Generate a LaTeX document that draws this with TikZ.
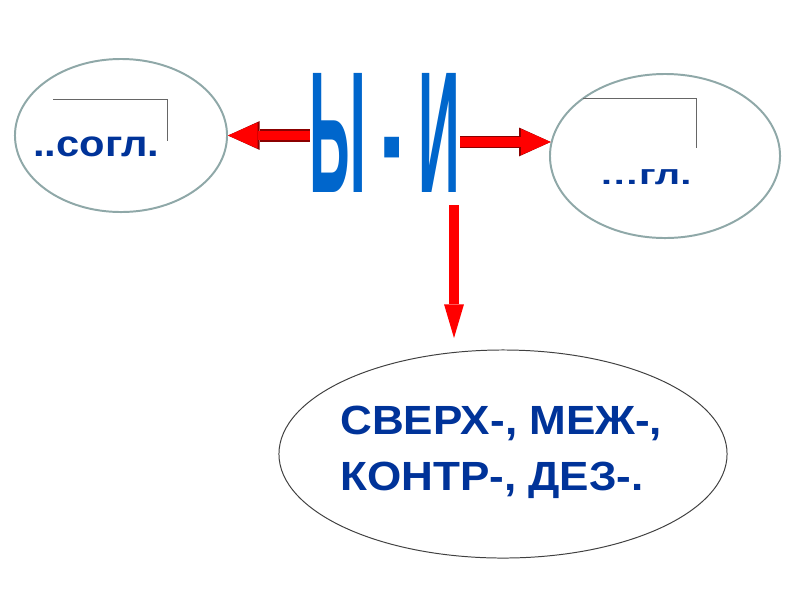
\documentclass[tikz,border=0pt]{standalone}
\usepackage{fontspec}
\setmainfont{Liberation Sans}
\usetikzlibrary{shapes.geometric,arrows.meta,calc}
\definecolor{bukva}{HTML}{0066CC}
\definecolor{textblue}{HTML}{003399}
\definecolor{arrred}{HTML}{FF0000}
\definecolor{arredge}{HTML}{8B0000}
\definecolor{ovalgray}{HTML}{8FA8A8}
\tikzset{
  oval/.style={ellipse, draw=ovalgray, line width=1.4pt, inner sep=0pt},
  bigoval/.style={ellipse, draw=black!75, line width=0.7pt, inner sep=0pt},
  label/.style={text=textblue, inner sep=0pt, font=\bfseries},
  sidearrow/.style={draw=arrred, line width=7.1pt, -{Triangle[length=21pt,width=18.5pt,line width=0pt]},
    preaction={draw=arredge, line width=8.6pt, -{Triangle[length=22.5pt,width=20.5pt,line width=0pt]}}},
  downarrow/.style={draw=arrred, line width=7.1pt, -{Triangle[length=24pt,width=14.2pt,line width=0pt]}},
  ending/.style={draw=black!60, line width=0.7pt},
}

\begin{document}
\begin{tikzpicture}[x=0.025cm, y=-0.025cm]
  \useasboundingbox (0,0) rectangle (800,600);
  % ovals
  \node[oval, minimum width=5.3cm, minimum height=3.825cm] (left) at (121,135.5) {};
  \node[oval, minimum width=5.75cm, minimum height=4.1cm] (right) at (665,156) {};
  \node[bigoval, minimum width=11.2cm, minimum height=5.2cm] (bottom) at (503,454) {};
  % title letters
  \node[inner sep=0pt, text=bukva] (title) at (385,132.5) {\resizebox{3.75cm}{2.975cm}{\bfseries Ы - И}};
  % labels
  \node[label, anchor=base west] (sogl) at (33,156) {\fontsize{26}{30}\selectfont\scalebox{1.14}[1]{..согл.}};
  \node[label, anchor=base west] (gl) at (599,184) {\fontsize{20}{24}\selectfont\scalebox{1.42}[1]{\dots гл.}};
  \node[label, align=left, anchor=west, font=\bfseries\fontsize{29}{40}\selectfont] (pref) at (340,452)
    {\scalebox{1.08}[1]{СВЕРХ-, МЕЖ-,}\\ \scalebox{1.08}[1]{КОНТР-, ДЕЗ-.}};
  % ending marks
  \draw[ending] (53,99) -- (167,99) -- (167,141);
  \draw[ending] (583,98) -- (696,98) -- (696,148);
  % arrows
  \coordinate (dtip) at (454,338);
  \draw[sidearrow] (title.west |- left.east) -- (left.east);
  \draw[sidearrow] (title.east |- right.173) -- (right.173);
  \draw[downarrow] ($(title.south -| dtip)+(0,13)$) -- (dtip);
\end{tikzpicture}
\end{document}
